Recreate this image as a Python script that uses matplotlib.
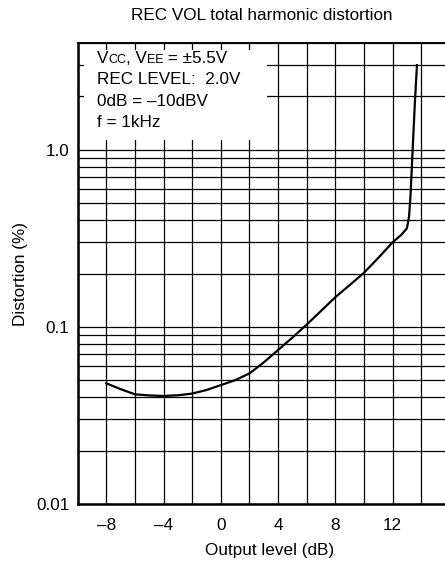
import numpy as np
import matplotlib
matplotlib.use("Agg")
import matplotlib.pyplot as plt
from matplotlib.patches import Rectangle
from matplotlib.ticker import FixedLocator, LogLocator, NullFormatter

plt.rcParams['font.family'] = ['Liberation Sans', 'DejaVu Sans']

# ── Data ─────────────────────────────────────────────────────────────────────
output_db = [-8, -7, -6, -5, -4, -3, -2, -1, 0, 1, 2, 3, 4, 5, 6, 7, 8,
             9, 10, 11, 12, 12.6, 13.0, 13.15, 13.25, 13.4, 13.55, 13.7]
distortion = [0.048, 0.0445, 0.0416, 0.0410, 0.0407, 0.0411, 0.0420, 0.0440,
              0.0469, 0.0500, 0.0546, 0.0630, 0.0740, 0.0870, 0.1030, 0.1230,
              0.1470, 0.1720, 0.2020, 0.2450, 0.3000, 0.3300, 0.3600, 0.4200,
              0.5500, 1.0000, 1.8000, 3.0000]

x_ticks = [-8, -4, 0, 4, 8, 12]
x_tick_labels = ["\u20138", "\u20134", "0", "4", "8", "12"]
y_ticks = [0.01, 0.1, 1.0]
y_tick_labels = ["0.01", "0.1", "1.0"]

FS = 12.3      # main text size
FS_SC = 9.0    # small-caps subscript size

W, H = 445, 563
fig = plt.figure(figsize=(W / 100, H / 100), dpi=100)
ax = fig.add_axes([77.7 / W, 1 - 504 / H, 1 - 77.7 / W, (504 - 43) / H])

ax.set_yscale("log")
ax.set_xlim(-10, 15.66)
ax.set_ylim(0.01, 4)

ax.xaxis.set_major_locator(FixedLocator(x_ticks))
ax.xaxis.set_minor_locator(FixedLocator(np.arange(-10, 16, 2)))
ax.set_xticklabels(x_tick_labels)
ax.yaxis.set_major_locator(FixedLocator(y_ticks))
ax.yaxis.set_minor_locator(LogLocator(base=10, subs=np.arange(2, 10)))
ax.yaxis.set_minor_formatter(NullFormatter())
ax.set_yticklabels(y_tick_labels)

ax.tick_params(which="both", length=0, labelsize=FS, colors="black")
ax.tick_params(axis="x", pad=10)
ax.tick_params(axis="y", pad=6)

ax.set_axisbelow(True)
ax.grid(True, which="both", color="black", lw=0.9)

for side in ("left", "bottom"):
    ax.spines[side].set_linewidth(1.8)
ax.spines["top"].set_linewidth(1.4)
ax.spines["right"].set_visible(False)

# white label box covering the grid
ax.add_patch(Rectangle((0.0172, 0.7896), 0.4978, 0.1952, transform=ax.transAxes,
                       facecolor="white", edgecolor="none", zorder=1))

ax.plot(output_db, distortion, color="black", lw=1.6, zorder=3)

ax.set_xlabel("Output level (dB)", fontsize=FS)
ax.xaxis.set_label_coords((270 - 77.7) / (W - 77.7), -(550 - 504) / (504 - 43))
ax.set_ylabel("Distortion (%)", fontsize=FS)
ax.yaxis.set_label_coords(-(77.7 - 20) / (W - 77.7), 0.5)
ax.yaxis.label.set_va("center")
ax.xaxis.label.set_va("center")

fig.text(262 / W, 1 - 15 / H, "REC VOL total harmonic distortion",
         ha="center", va="center", fontsize=FS)

# ── Conditions text ──────────────────────────────────────────────────────────
tx = 96.7 / W
baselines = [63, 84.3, 105.7, 126.7]
pieces = [("V", FS), ("CC", FS_SC), (", V", FS), ("EE", FS_SC),
          (" = \u00b15.5V", FS)]
prev = fig.text(tx, 1 - baselines[0] / H, pieces[0][0], fontsize=pieces[0][1],
                ha="left", va="baseline")
for txt, fs in pieces[1:]:
    prev = ax.annotate(txt, xy=(1, 0), xycoords=prev, ha="left", va="bottom",
                       fontsize=fs, zorder=4)
fig.text(tx, 1 - baselines[1] / H, "REC LEVEL:  2.0V", fontsize=FS,
         ha="left", va="baseline")
fig.text(tx, 1 - baselines[2] / H, "0dB = \u201310dBV", fontsize=FS,
         ha="left", va="baseline")
fig.text(tx, 1 - baselines[3] / H, "f = 1kHz", fontsize=FS,
         ha="left", va="baseline")

fig.savefig("out.png", dpi=100)
